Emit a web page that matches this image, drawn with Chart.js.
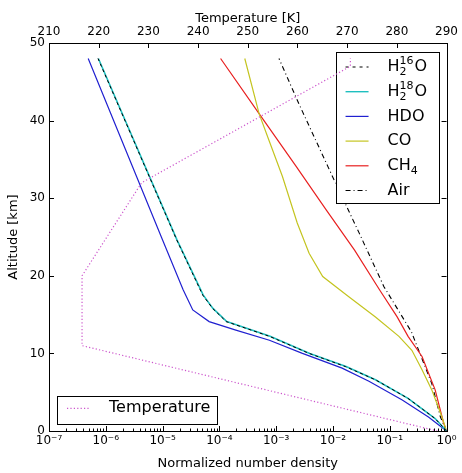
<!DOCTYPE html>
<html>
<head>
<meta charset="utf-8">
<script src="https://cdn.jsdelivr.net/npm/chart.js@4.4.0/dist/chart.umd.min.js"></script>
<style>
  html, body { margin: 0; padding: 0; background: #fff; }
  canvas { display: block; }
</style>
</head>
<body>
<canvas id="profiles" width="462" height="473"></canvas>
<script>
// altitude [km] / normalized number density
const altH2O = [0, 1.6, 4.2, 6.6, 8.3, 10, 12.2, 14.1, 15.8, 17.5, 24.6, 48];
const h2o16 = [1, 6.3e-1, 2.1e-1, 5.6e-2, 1.66e-2, 3.8e-3, 7.6e-4, 1.32e-4, 7.6e-5, 5.1e-5, 1.78e-5, 7.3e-7];
const h2o18 = [1, 6.3e-1, 2.1e-1, 5.6e-2, 1.7e-2, 3.9e-3, 7.8e-4, 1.35e-4, 7.7e-5, 5.2e-5, 1.8e-5, 7.4e-7];
const altHDO = [0, 1.8, 4, 6.4, 8.1, 10, 11.7, 13, 14.1, 15.6, 18.2, 24.6, 48];
const hdo = [1, 4.8e-1, 1.66e-1, 4.3e-2, 1.45e-2, 2.9e-3, 7.6e-4, 1.95e-4, 6.6e-5, 3.4e-5, 2.3e-5, 1.0e-5, 4.9e-7];
const altCO = [0, 1.8, 5.3, 7.9, 10.4, 12.2, 14.7, 17.3, 19.9, 22.9, 26.8, 32.8, 37.3, 40.9, 48];
const co = [1, 8.3e-1, 5.5e-1, 3.7e-1, 2.45e-1, 1.45e-1, 5.6e-2, 1.9e-2, 6.6e-3, 3.8e-3, 2.35e-3, 1.29e-3, 7.6e-4, 5.0e-4, 2.8e-4];
const altCH4 = [0, 1.0, 5.3, 9.6, 12.2, 14.7, 18.2, 23.3, 28.5, 34.2, 40.9, 48];
const ch4 = [1, 8.9e-1, 6.3e-1, 3.7e-1, 2.1e-1, 1.35e-1, 6.6e-2, 2.4e-2, 7.6e-3, 2.2e-3, 5.0e-4, 1.05e-4];
const altAir = [0, 1.8, 6.1, 12.8, 18.6, 25.5, 32.8, 42.2, 48];
const air = [1, 7.8e-1, 5.5e-1, 2.4e-1, 7.9e-2, 2.9e-2, 9.8e-3, 2.5e-3, 1.12e-3];

// temperature profile [K] (top axis)
const altTemp = [0, 11, 20, 32, 47, 48];
const temperature = [288.15, 216.65, 216.65, 228.65, 270.65, 270.65];

// tick labels
const densityTicks = [1e-7, 1e-6, 1e-5, 1e-4, 1e-3, 1e-2, 1e-1, 1];
const tempTicks = [210, 220, 230, 240, 250, 260, 270, 280, 290];
const altTicks = [0, 10, 20, 30, 40, 50];

const FONT = 'DejaVu Sans';
Chart.defaults.font.family = FONT;
Chart.defaults.color = '#000';

const SUP = { '-': '\u207b', '0': '\u2070', '1': '\u00b9', '2': '\u00b2', '3': '\u00b3',
  '4': '\u2074', '5': '\u2075', '6': '\u2076', '7': '\u2077', '8': '\u2078', '9': '\u2079' };
function powLabel(v) {
  const e = String(Math.round(Math.log10(v)));
  return '10' + e.split('').map(c => SUP[c]).join('');
}

function pts(alts, vals) {
  return alts.map((a, i) => ({ x: vals[i], y: a }));
}

const C_H2O16 = '#000', C_H2O18 = '#1fbfbf', C_HDO = '#2020d0', C_CO = '#c4c420',
  C_CH4 = '#e82020', C_AIR = '#000', C_TEMP = '#cc55cc';
const D_H2O16 = [3, 3], D_AIR = [5, 3, 1, 3], D_TEMP = [1.2, 2.2];

// legend entries, label split into text / sub / sup pieces
const mainLegend = [
  { parts: ['H', { sub: '2', sup: '16' }, 'O'], color: C_H2O16, dash: [3, 4], width: 1.1 },
  { parts: ['H', { sub: '2', sup: '18' }, 'O'], color: C_H2O18, dash: [], width: 1.4 },
  { parts: ['HDO'], color: C_HDO, dash: [], width: 1.2 },
  { parts: ['CO'], color: C_CO, dash: [], width: 1.2 },
  { parts: ['CH', { sub: '4' }], color: C_CH4, dash: [], width: 1.2 },
  { parts: ['Air'], color: C_AIR, dash: D_AIR, width: 1.1 }
];
const tempLegend = [
  { parts: ['Temperature'], color: C_TEMP, dash: D_TEMP, width: 1.2 }
];

function drawLabel(ctx, parts, x, y) {
  ctx.textBaseline = 'middle';
  ctx.textAlign = 'left';
  for (const p of parts) {
    if (typeof p === 'string') {
      ctx.font = '16px "' + FONT + '"';
      ctx.fillText(p, x, y);
      x += ctx.measureText(p).width;
    } else {
      ctx.font = '11px "' + FONT + '"';
      let w = 0;
      if (p.sub) { ctx.fillText(p.sub, x, y + 5); w = Math.max(w, ctx.measureText(p.sub).width); }
      if (p.sup) { ctx.fillText(p.sup, x, y - 6); w = Math.max(w, ctx.measureText(p.sup).width); }
      x += w + 1;
    }
  }
}

function drawLegend(ctx, items, left, top, width, height, firstY, step) {
  ctx.save();
  ctx.fillStyle = '#fff';
  ctx.fillRect(left, top, width, height);
  ctx.strokeStyle = '#000';
  ctx.lineWidth = 1;
  ctx.setLineDash([]);
  ctx.strokeRect(Math.round(left) + 0.5, Math.round(top) + 0.5, Math.round(width), Math.round(height));
  items.forEach((it, i) => {
    const y = firstY + i * step;
    ctx.strokeStyle = it.color;
    ctx.lineWidth = it.width;
    ctx.setLineDash(it.dash);
    ctx.beginPath();
    ctx.moveTo(left + 10, y);
    ctx.lineTo(left + 33, y);
    ctx.stroke();
    ctx.setLineDash([]);
    ctx.fillStyle = '#000';
    drawLabel(ctx, it.parts, left + 52, y);
  });
  ctx.restore();
}

// frame, inward ticks and legends (matplotlib look)
const axesDecor = {
  id: 'axesDecor',
  beforeDatasetDraw(chart, args) {
    if (chart.data.datasets[args.index].label !== 'Temperature') return;
    const a = chart.chartArea;
    drawLegend(chart.ctx, mainLegend, a.right - 111, a.top + 9, 103, 151, a.top + 24, 24.7);
  },
  afterDatasetsDraw(chart) {
    const { ctx, chartArea: a, scales } = chart;
    ctx.save();
    ctx.strokeStyle = '#000';
    ctx.lineWidth = 1;
    ctx.setLineDash([]);
    ctx.beginPath();
    // bottom log axis: majors and minors
    for (let e = -7; e <= 0; e++) {
      for (let k = 1; k <= 9; k++) {
        const v = k * Math.pow(10, e);
        if (v > 1) break;
        const x = Math.round(scales.x.getPixelForValue(v)) + 0.5;
        const len = k === 1 ? 5 : 2.5;
        ctx.moveTo(x, a.bottom);
        ctx.lineTo(x, a.bottom - len);
      }
    }
    // top temperature axis
    tempTicks.forEach(t => {
      const x = Math.round(scales.xT.getPixelForValue(t)) + 0.5;
      ctx.moveTo(x, a.top);
      ctx.lineTo(x, a.top + 5);
    });
    // left and right altitude ticks
    altTicks.forEach(h => {
      const y = Math.round(scales.y.getPixelForValue(h)) + 0.5;
      ctx.moveTo(a.left, y);
      ctx.lineTo(a.left + 5, y);
      ctx.moveTo(a.right, y);
      ctx.lineTo(a.right - 5, y);
    });
    ctx.stroke();
    ctx.strokeRect(Math.round(a.left) + 0.5, Math.round(a.top) + 0.5,
      Math.round(a.right - a.left), Math.round(a.bottom - a.top));
    ctx.restore();

    drawLegend(ctx, tempLegend, a.left + 8, a.bottom - 35, 160, 28, a.bottom - 22.7, 0);
  }
};

function line(label, alts, vals, color, dash, width, axis) {
  return {
    label: label,
    data: pts(alts, vals),
    xAxisID: axis || 'x',
    yAxisID: 'y',
    showLine: true,
    borderColor: color,
    borderWidth: width,
    borderDash: dash,
    pointRadius: 0,
    tension: 0,
    fill: false
  };
}

new Chart(document.getElementById('profiles'), {
  type: 'scatter',
  data: {
    datasets: [
      Object.assign(line('Temperature', altTemp, temperature, C_TEMP, D_TEMP, 1.2, 'xT'), { order: -1 }),
      line('H2 16O', altH2O, h2o16, C_H2O16, D_H2O16, 1),
      line('H2 18O', altH2O, h2o18, C_H2O18, [], 1.6),
      line('HDO', altHDO, hdo, C_HDO, [], 1.2),
      line('CO', altCO, co, C_CO, [], 1.2),
      line('CH4', altCH4, ch4, C_CH4, [], 1.2),
      line('Air', altAir, air, C_AIR, D_AIR, 1.1)
    ]
  },
  options: {
    responsive: false,
    animation: false,
    devicePixelRatio: 1,
    layout: { padding: { left: 0, right: 14, top: 0, bottom: 0 } },
    plugins: {
      legend: { display: false },
      tooltip: { enabled: false }
    },
    scales: {
      x: {
        type: 'logarithmic',
        position: 'bottom',
        min: 1e-7,
        max: 1,
        afterBuildTicks: s => { s.ticks = densityTicks.map(v => ({ value: v })); },
        afterFit: s => { s.height = 42; },
        grid: { display: false, drawTicks: false },
        border: { display: false },
        ticks: {
          autoSkip: false, maxRotation: 0, minRotation: 0, padding: 3,
          font: { size: 12 },
          callback: v => powLabel(v)
        },
        title: { display: true, text: 'Normalized number density', font: { size: 13 }, padding: { top: 0, bottom: 2 } }
      },
      xT: {
        type: 'linear',
        position: 'top',
        min: 210,
        max: 290,
        afterBuildTicks: s => { s.ticks = tempTicks.map(v => ({ value: v })); },
        afterFit: s => { s.height = 43; },
        grid: { display: false, drawTicks: false },
        border: { display: false },
        ticks: { autoSkip: false, maxRotation: 0, minRotation: 0, padding: 4, font: { size: 12 } },
        title: { display: true, text: 'Temperature [K]', font: { size: 13 }, padding: { top: 11, bottom: 0 } }
      },
      y: {
        type: 'linear',
        position: 'left',
        min: 0,
        max: 50,
        afterBuildTicks: s => { s.ticks = altTicks.map(v => ({ value: v })); },
        afterFit: s => { s.width = 49; },
        grid: { display: false, drawTicks: false },
        border: { display: false },
        ticks: { autoSkip: false, padding: 4, font: { size: 12 } },
        title: { display: true, text: 'Altitude [km]', font: { size: 13 }, padding: { top: 6, bottom: 0 } }
      }
    }
  },
  plugins: [axesDecor]
});
</script>
</body>
</html>
